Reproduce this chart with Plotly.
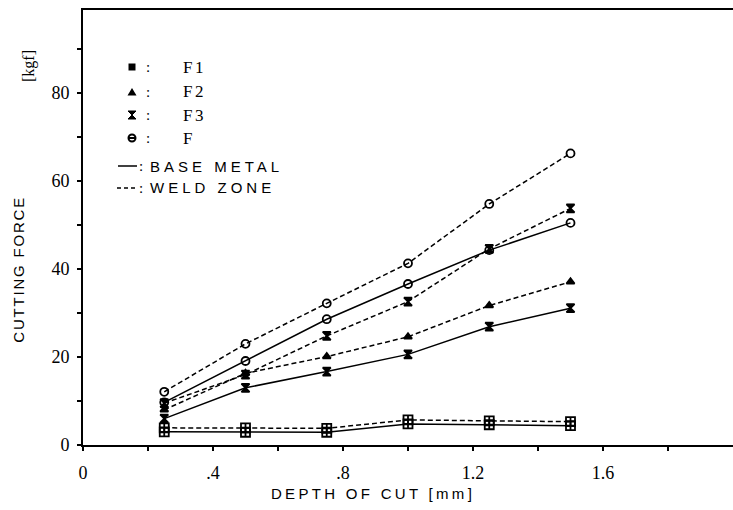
import plotly.graph_objects as go

# ---- data ----
depth = [0.25, 0.5, 0.75, 1.0, 1.25, 1.5]

f1_base = [3.0, 2.9, 2.9, 4.8, 4.6, 4.4]
f1_weld = [3.9, 3.9, 3.8, 5.7, 5.5, 5.3]
f2_weld = [8.0, 16.3, 20.1, 24.6, 31.7, 37.1]
f3_base = [6.0, 13.0, 16.7, 20.6, 26.9, 31.1]
f3_weld = [9.5, 16.0, 24.8, 32.6, 44.6, 53.8]
f_base = [9.7, 19.1, 28.6, 36.6, 44.3, 50.5]
f_weld = [12.1, 23.0, 32.2, 41.3, 54.8, 66.3]

x_tickvals = [0, 0.2, 0.4, 0.6, 0.8, 1.0, 1.2, 1.4, 1.6, 1.8]
x_ticktext = ["0", "", ".4", "", ".8", "", "1.2", "", "1.6", ""]
y_tickvals = [0, 10, 20, 30, 40, 50, 60, 70, 80, 90]
y_ticktext = ["0", "", "20", "", "40", "", "60", "", "80", ""]

legend_labels = ["F1", "F2", "F3", "F"]
style_labels = ["BASE METAL", "WELD ZONE"]

# ---- layout geometry (pixels) ----
W, H = 733, 510
L, R, T, B = 83, 0, 10, 65
PW, PH = W - L - R, H - T - B


def px(x):
    return (x - L) / PW


def py(y):
    return (H - B - y) / PH


SOLID = "solid"
DASH = "5px,3px"

series = [
    (f1_base, SOLID, "square-cross-open", 9, "F1 base"),
    (f1_weld, DASH, "square-cross-open", 9, "F1 weld"),
    (f3_base, SOLID, "hourglass", 8, "F3 base"),
    (f2_weld, DASH, "triangle-up", 7, "F2 weld"),
    (f3_weld, DASH, "hourglass", 8, "F3 weld"),
    (f_base, SOLID, "circle-open", 8, "F base"),
    (f_weld, DASH, "circle-open", 8, "F weld"),
]

fig = go.Figure()
for vals, dash, sym, size, name in series:
    fig.add_trace(go.Scatter(
        x=depth, y=vals, mode="lines+markers", name=name,
        line=dict(color="black", width=1.5, dash=dash),
        marker=dict(symbol=sym, size=size, color="black",
                    line=dict(color="black", width=1.8)),
        showlegend=False, hoverinfo="skip",
    ))

serif = "Liberation Serif"
sans = "Liberation Sans"

fig.update_layout(
    width=W, height=H,
    margin=dict(l=L, r=R, t=T, b=B),
    paper_bgcolor="white", plot_bgcolor="white",
    showlegend=False,
    xaxis=dict(
        range=[0, 2.0], tickvals=x_tickvals, ticktext=x_ticktext,
        showgrid=False, zeroline=False, showline=True, linecolor="black",
        linewidth=2, mirror=True, ticks="outside", ticklen=4, tickwidth=1.5,
        tickcolor="black", ticklabelstandoff=6,
        tickfont=dict(family=serif, size=18, color="black"),
    ),
    yaxis=dict(
        range=[0, 98.9], tickvals=y_tickvals, ticktext=y_ticktext,
        showgrid=False, zeroline=False, showline=True, linecolor="black",
        linewidth=2, ticks="outside", ticklen=4, tickwidth=1.5,
        tickcolor="black", ticklabelstandoff=4,
        tickfont=dict(family=serif, size=18, color="black"),
    ),
    xaxis2=dict(
        range=[0, 2.0], tickvals=x_tickvals, showticklabels=False,
        overlaying="x", anchor="y", side="bottom",
        showgrid=False, zeroline=False, showline=False,
        ticks="inside", ticklen=4, tickwidth=1.5, tickcolor="black",
    ),
    yaxis2=dict(
        range=[0, 98.9], tickvals=y_tickvals, showticklabels=False,
        overlaying="y", anchor="x", side="left",
        showgrid=False, zeroline=False, showline=False,
        ticks="inside", ticklen=4, tickwidth=1.5, tickcolor="black",
    ),
)

annotations = [
    dict(text="CUTTING FORCE", x=px(18), y=py(270), textangle=-90,
         font=dict(family=sans, size=15, color="black")),
    dict(text="DEPTH OF CUT [mm]", x=px(373), y=py(493),
         font=dict(family=sans, size=15, color="black")),
    dict(text="[kgf]", x=px(29), y=py(66), textangle=-90,
         font=dict(family=serif, size=16, color="black")),
]

# legend rows
rows_y = [67, 92, 115, 138]
for lbl, yy in zip(legend_labels, rows_y):
    annotations.append(dict(text=":", x=px(148), y=py(yy),
                            font=dict(family=serif, size=15, color="black")))
    annotations.append(dict(text=lbl, x=px(181), y=py(yy), xanchor="left",
                            font=dict(family=serif, size=17, color="black")))
for lbl, yy in zip(style_labels, [166, 188]):
    annotations.append(dict(text=":", x=px(141), y=py(yy),
                            font=dict(family=serif, size=15, color="black")))
    annotations.append(dict(text=lbl, x=px(148), y=py(yy), xanchor="left",
                            font=dict(family=sans, size=15, color="black")))

for a in annotations:
    a.update(xref="paper", yref="paper", showarrow=False,
             xanchor=a.get("xanchor", "center"), yanchor="middle")
fig.update_layout(annotations=annotations)

# legend sample symbols as shapes (paper coordinates)
shapes = []
mx = 132
s = 3.5
# square
shapes.append(dict(type="rect", x0=px(mx - s), x1=px(mx + s),
                   y0=py(67 + s), y1=py(67 - s),
                   fillcolor="black", line=dict(width=0)))
# triangle
yy = 92
shapes.append(dict(type="path",
                   path=f"M {px(mx-4.5)} {py(yy+3.5)} L {px(mx+4.5)} {py(yy+3.5)} L {px(mx)} {py(yy-4)} Z",
                   fillcolor="black", line=dict(width=0)))
# hourglass
yy = 115
shapes.append(dict(type="path",
                   path=f"M {px(mx-4)} {py(yy-4)} L {px(mx+4)} {py(yy-4)} L {px(mx-4)} {py(yy+4)} L {px(mx+4)} {py(yy+4)} Z",
                   fillcolor="black", line=dict(color="black", width=1)))
# circle with bar
yy = 138
shapes.append(dict(type="circle", x0=px(mx - 3.5), x1=px(mx + 3.5),
                   y0=py(yy + 3.5), y1=py(yy - 3.5),
                   line=dict(color="black", width=2)))
shapes.append(dict(type="line", x0=px(mx - 3.5), x1=px(mx + 3.5),
                   y0=py(yy), y1=py(yy), line=dict(color="black", width=2)))
# solid / dashed samples
shapes.append(dict(type="line", x0=px(118), x1=px(137), y0=py(166), y1=py(166),
                   line=dict(color="black", width=1.5)))
shapes.append(dict(type="line", x0=px(117), x1=px(137), y0=py(188), y1=py(188),
                   line=dict(color="black", width=1.5, dash="4px,3px")))
for sh in shapes:
    sh.update(xref="paper", yref="paper", layer="above")
fig.update_layout(shapes=shapes)

post = """
document.querySelectorAll('.annotation-text').forEach(function(t){
  var s = t.textContent;
  var sp = null, keepLeft = false;
  if (s === 'BASE METAL' || s === 'WELD ZONE') { sp = 4.0; keepLeft = true; }
  else if (/^F\\d?$/.test(s)) { sp = 2.5; keepLeft = true; }
  else if (s === 'DEPTH OF CUT [mm]') { sp = 3.3; }
  else if (s === 'CUTTING FORCE') { sp = 1.8; }
  if (sp === null) return;
  var b0 = t.getBBox();
  t.style.letterSpacing = sp + 'px';
  if (keepLeft) {
    var b1 = t.getBBox();
    var x = parseFloat(t.getAttribute('x') || '0');
    t.setAttribute('x', x + (b0.x - b1.x));
  }
});
"""

fig.write_html("out.html", post_script=post)
